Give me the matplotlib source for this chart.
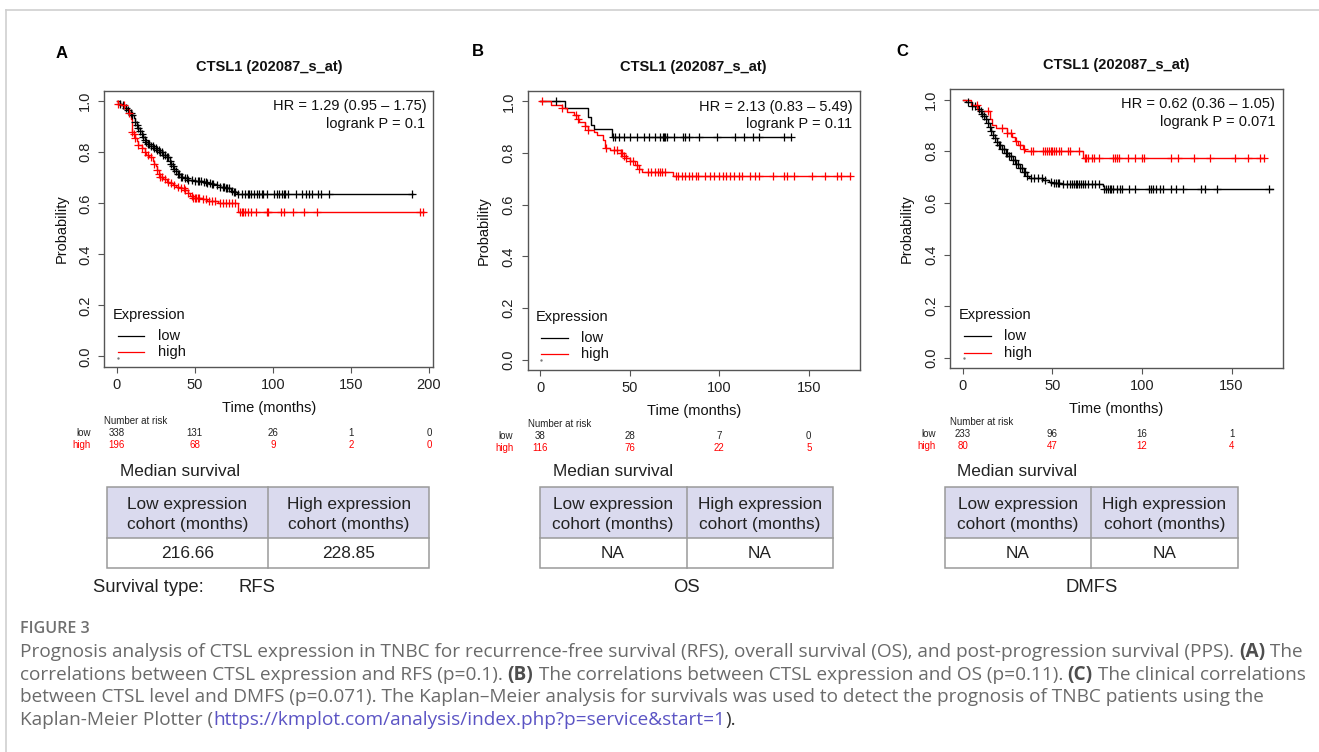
import numpy as np
import matplotlib
matplotlib.use("Agg")
import matplotlib.pyplot as plt
from matplotlib.patches import Rectangle
from matplotlib.transforms import blended_transform_factory

plt.rcParams['font.family'] = ['Liberation Sans', 'DejaVu Sans']

# ---------------- data ----------------
A_low_t = [0, 2, 4, 5, 7, 8, 10, 11, 12, 13, 14, 15, 16, 17, 18, 19, 20, 22, 24, 26, 28, 30, 32, 34, 35, 36, 37, 38, 39, 41,
           43, 46, 50, 55, 58, 61, 64, 66, 70, 73, 75, 77]
A_low_s = [1.0, 0.99, 0.985, 0.975, 0.965, 0.955, 0.945, 0.935, 0.92, 0.905, 0.895, 0.885, 0.87, 0.86, 0.85, 0.84, 0.832,
           0.825, 0.815, 0.81, 0.80, 0.79, 0.78, 0.765, 0.755, 0.745, 0.735, 0.725, 0.715, 0.705, 0.698, 0.692, 0.688,
           0.685, 0.68, 0.675, 0.67, 0.665, 0.66, 0.65, 0.645, 0.635]
A_low_end = 190
A_low_cens = [2, 4, 6, 7, 9, 10, 12, 13, 14, 15, 16, 17, 18, 19, 20, 21, 22, 23, 24, 25, 26, 27, 28, 29, 30, 31, 32, 33, 34,
              35, 36, 37, 38, 39, 40, 41, 42, 44, 45, 46, 48, 50, 52, 53, 54, 56, 57, 58, 60, 61, 62, 64, 66, 68, 69, 70,
              71, 72, 74, 75, 76, 78, 80, 82, 84, 85, 86, 88, 90, 91, 93, 94, 96, 101, 103, 104, 106, 107, 108, 110, 115,
              119, 121, 123, 125, 129, 131, 136, 189]
A_high_t = [0, 1, 3, 6, 8, 9, 10, 11, 12, 13, 14, 16, 18, 19, 21, 23, 24, 25, 26, 27, 28, 30, 32, 34, 36, 38, 41, 44, 46,
            47, 49, 55, 58, 65, 78]
A_high_s = [1.0, 0.99, 0.985, 0.97, 0.955, 0.93, 0.88, 0.87, 0.855, 0.845, 0.83, 0.815, 0.80, 0.79, 0.78, 0.765, 0.755,
            0.745, 0.73, 0.715, 0.705, 0.695, 0.685, 0.678, 0.672, 0.665, 0.66, 0.652, 0.64, 0.628, 0.622, 0.615, 0.61,
            0.60, 0.567]
A_high_end = 197
A_high_cens = [1, 5, 8, 10, 11, 12, 14, 16, 18, 20, 22, 24, 26, 27, 28, 29, 31, 33, 35, 37, 39, 41, 43, 44, 46, 48, 49,
               50, 51, 52, 53, 55, 57, 59, 61, 63, 66, 68, 70, 72, 74, 76, 79, 80, 81, 82, 84, 86, 89, 96, 97, 105, 107,
               113, 120, 128, 194, 196]

B_low_t = [0, 14, 27, 28.5, 30, 40]
B_low_s = [1.0, 0.973, 0.94, 0.91, 0.893, 0.863]
B_low_end = 140
B_low_cens = [9, 40.5, 42, 44, 47, 50, 54, 58, 61, 64, 67, 68.5, 69, 70, 71, 75, 80, 81, 83, 89, 99, 109, 114, 119, 122,
              136, 140]
B_high_t = [0, 6, 12, 15, 19, 21, 22, 25, 27, 30, 32, 35, 36, 39, 45, 47, 48, 50, 53, 55, 57, 74]
B_high_s = [1.0, 0.985, 0.974, 0.96, 0.947, 0.93, 0.92, 0.905, 0.89, 0.88, 0.87, 0.85, 0.82, 0.81, 0.80, 0.79, 0.78,
            0.77, 0.755, 0.74, 0.727, 0.71]
B_high_end = 173
B_high_cens = [1, 12, 20, 21, 25, 27, 37, 41, 43, 45, 46, 47, 48, 50, 52, 54, 55, 60, 62, 64, 66, 67, 68, 70, 76, 77, 79,
               81, 83, 85, 87, 88, 92, 95, 97, 100, 102, 104, 106, 108, 111, 113, 117, 120, 122, 130, 136, 138, 142,
               152, 159, 166, 168, 173]

C_low_t = [0, 2, 5, 8, 10, 11, 12, 13, 14, 15, 16, 17, 18, 19, 20, 22, 24, 26, 28, 30, 32, 34, 36, 37, 45, 48, 50, 55,
           78, 79]
C_low_s = [1.0, 0.99, 0.975, 0.965, 0.955, 0.945, 0.935, 0.925, 0.91, 0.895, 0.88, 0.865, 0.85, 0.835, 0.825, 0.81,
           0.795, 0.78, 0.765, 0.75, 0.735, 0.72, 0.705, 0.697, 0.69, 0.683, 0.678, 0.675, 0.665, 0.655]
C_low_end = 173
C_low_cens = [3, 5, 7, 9, 10, 11, 12, 13, 14, 15, 16, 17, 18, 19, 20, 21, 22, 23, 24, 25, 26, 27, 28, 29, 30, 31, 32, 33,
              34, 35, 36, 38, 40, 42, 44, 46, 49, 51, 52, 53, 54, 56, 58, 60, 61, 62, 63, 64, 65, 66, 67, 68, 70, 72, 74,
              76, 79, 80, 81, 82, 83, 84, 86, 88, 89, 93, 96, 104, 105, 106, 108, 110, 112, 116, 119, 123, 133, 135,
              142, 171]
C_high_t = [0, 4.5, 8.5, 15, 16.5, 18.5, 24.5, 27.5, 29, 31, 33.5, 35, 67]
C_high_s = [1.0, 0.98, 0.955, 0.925, 0.9, 0.89, 0.87, 0.854, 0.84, 0.825, 0.81, 0.80, 0.775]
C_high_end = 168
C_high_cens = [8, 14, 22, 25, 27, 30, 32, 34, 38, 39, 45, 46, 47, 48, 49, 50, 51, 52, 54, 55, 59, 60, 65, 68, 69, 70,
               72, 73, 76, 84, 85, 86, 87, 92, 96, 100, 101, 116, 120, 129, 138, 152, 159, 166, 168]

A_risk_times = [0, 50, 100, 150, 200]
A_risk_low = [338, 131, 26, 1, 0]
A_risk_high = [196, 68, 9, 2, 0]
B_risk_times = [0, 50, 100, 150]
B_risk_low = [38, 28, 7, 0]
B_risk_high = [116, 76, 22, 5]
C_risk_times = [0, 50, 100, 150]
C_risk_low = [233, 96, 16, 1]
C_risk_high = [80, 47, 12, 4]

panel_letters = ["A", "B", "C"]
titles = ["CTSL1 (202087_s_at)"] * 3
hr_texts = ["HR = 1.29 (0.95 \u2013 1.75)", "HR = 2.13 (0.83 \u2013 5.49)", "HR = 0.62 (0.36 \u2013 1.05)"]
p_texts = ["logrank P = 0.1", "logrank P = 0.11", "logrank P = 0.071"]
median_low = ["216.66", "NA", "NA"]
median_high = ["228.85", "NA", "NA"]
survival_types = ["RFS", "OS", "DMFS"]
x_ticks = [[0, 50, 100, 150, 200], [0, 50, 100, 150], [0, 50, 100, 150]]
y_ticks = [0.0, 0.2, 0.4, 0.6, 0.8, 1.0]
y_tick_labels = ["0.0", "0.2", "0.4", "0.6", "0.8", "1.0"]

# ---------------- layout ----------------
W, H = 1319, 752
fig = plt.figure(figsize=(W / 100, H / 100), dpi=100)
ov = fig.add_axes([0, 0, 1, 1])
ov.set_xlim(0, W)
ov.set_ylim(H, 0)
ov.axis('off')
ov.set_zorder(-1)

# outer frame
ov.plot([6, W], [10, 10], color='#cfcfcf', lw=1.2)
ov.plot([6, 6], [10, H], color='#cfcfcf', lw=1.2)

RED = '#ff0000'
FS = 10.5
TXT = '#111111'

panels = [
    dict(box=(104.3, 91, 433.3, 366.7), xlim=(-7.9, 202.8), letter=(62, 54), title=(269, 67),
         hr=(426.7, 106.3), pv=(425, 124), xlab=408, ylab=62,
         leg=(112.3, 314.5, 335.5, 352), legline=(117.7, 144.3, 157.7),
         risk=(104.3, 421, 433, 445, 91),
         low=(A_low_t, A_low_s, A_low_end, A_low_cens), high=(A_high_t, A_high_s, A_high_end, A_high_cens),
         rt=A_risk_times, rl=A_risk_low, rh=A_risk_high,
         table=(106.7, 268.3, 429.3), med=(120, 471)),
    dict(box=(527.7, 91, 860, 370), xlim=(-6.9, 178.6), letter=(478, 52), title=(693, 67),
         hr=(852.7, 106.7), pv=(851.7, 124.3), xlab=410.5, ylab=484,
         leg=(535.3, 316.7, 337.7, 354.3), legline=(541, 567.7, 581),
         risk=(527.7, 424, 436.3, 448.3, 513.3),
         low=(B_low_t, B_low_s, B_low_end, B_low_cens), high=(B_high_t, B_high_s, B_high_end, B_high_cens),
         rt=B_risk_times, rl=B_risk_low, rh=B_risk_high,
         table=(539.5, 686.5, 833), med=(553, 472)),
    dict(box=(950.3, 89.3, 1282.7, 368.3), xlim=(-6.9, 178.5), letter=(902, 52), title=(1116.7, 65.5),
         hr=(1275, 104.3), pv=(1275, 122), xlab=409, ylab=907,
         leg=(958.3, 315, 336, 352.7), legline=(964, 990.7, 1004.3),
         risk=(950.3, 422, 434.3, 446.3, 936),
         low=(C_low_t, C_low_s, C_low_end, C_low_cens), high=(C_high_t, C_high_s, C_high_end, C_high_cens),
         rt=C_risk_times, rl=C_risk_low, rh=C_risk_high,
         table=(944.5, 1091, 1238), med=(957, 472)),
]

table_top, table_mid, table_bot = 487.3, 538.3, 568.3
HEADER = '#dadaee'
BORDER = '#9a9a9a'


def km_draw(ax, t, s, end, cens, color):
    tt = list(t) + [end]
    ss = list(s) + [s[-1]]
    ax.step(tt, ss, where='post', color=color, lw=1.0, zorder=3)
    ct = np.asarray(cens, dtype=float)
    idx = np.searchsorted(np.asarray(t, dtype=float), ct, side='right') - 1
    cy = np.asarray(s)[idx]
    ax.plot(ct, cy, ls='none', marker='+', ms=5.5, mew=0.9, color=color, zorder=4)


for i, p in enumerate(panels):
    l, tp, r, b = p['box']
    ax = fig.add_axes([l / W, 1 - b / H, (r - l) / W, (b - tp) / H])
    ax.set_facecolor('none')
    ax.set_xlim(*p['xlim'])
    ax.set_ylim(-0.04, 1.04)
    for sp in ax.spines.values():
        sp.set_color('#555555')
        sp.set_linewidth(1.0)
    ax.set_xticks(x_ticks[i])
    ax.set_xticklabels([str(v) for v in x_ticks[i]], fontsize=FS)
    ax.set_yticks(y_ticks)
    ax.set_yticklabels(y_tick_labels, fontsize=FS, rotation=90, va='center')
    ax.tick_params(direction='out', length=4.3, width=0.8, color='#555555', pad=3.5, labelcolor='#222222')
    ax.tick_params(axis='y', pad=4.5)

    km_draw(ax, *p['low'], color='black')
    km_draw(ax, *p['high'], color=RED)

    # texts around
    ov.text(*p['letter'], panel_letters[i], fontsize=12, fontweight='bold', ha='center', va='center', color='black')
    ov.text(*p['title'], titles[i], fontsize=FS, fontweight='bold', ha='center', va='center', color=TXT)
    ov.text(*p['hr'], hr_texts[i], fontsize=FS, ha='right', va='center', color=TXT)
    ov.text(*p['pv'], p_texts[i], fontsize=FS, ha='right', va='center', color=TXT)
    ov.text((l + r) / 2, p['xlab'], "Time (months)", fontsize=FS, ha='center', va='center', color=TXT)
    ov.text(p['ylab'], (tp + b) / 2, "Probability", fontsize=FS, ha='center', va='center', rotation=90,
            color=TXT)

    # legend
    lx, ly0, ly1, ly2 = p['leg']
    x0, x1, xt = p['legline']
    ov.text(lx, ly0, "Expression", fontsize=FS, ha='left', va='center', color=TXT)
    ov.plot([x0, x1], [ly1, ly1], color='black', lw=0.9)
    ov.plot([x0, x1], [ly2, ly2], color=RED, lw=0.9)
    ov.plot([x0], [ly2 + 5.5], marker='o', ms=0.7, color='#777777', mec='#777777')
    ov.text(xt, ly1, "low", fontsize=FS, ha='left', va='center', color=TXT)
    ov.text(xt, ly2, "high", fontsize=FS, ha='left', va='center', color=TXT)

    # number at risk
    nx, ny, nly, nhy, lab_r = p['risk']
    ov.text(nx, ny, "Number at risk", fontsize=7, ha='left', va='center', color='#222222')
    ov.text(lab_r, nly, "low", fontsize=7, ha='right', va='center', color='#222222')
    ov.text(lab_r, nhy, "high", fontsize=7, ha='right', va='center', color=RED)
    tr = blended_transform_factory(ax.transData, ov.transData)
    for tv, lo, hi in zip(p['rt'], p['rl'], p['rh']):
        ov.text(tv, nly, str(lo), fontsize=7, ha='center', va='center', color='#222222', transform=tr)
        ov.text(tv, nhy, str(hi), fontsize=7, ha='center', va='center', color=RED, transform=tr)

    # median survival table
    tl, tm, tr_ = p['table']
    ov.text(*p['med'], "Median survival", fontsize=12.4, ha='left', va='center', color='#222222')
    ov.add_patch(Rectangle((tl, table_top), tr_ - tl, table_mid - table_top, facecolor=HEADER, edgecolor='none'))
    ov.add_patch(Rectangle((tl, table_top), tr_ - tl, table_bot - table_top, facecolor='none', edgecolor=BORDER,
                           lw=1.1))
    ov.plot([tl, tr_], [table_mid, table_mid], color=BORDER, lw=1.1)
    ov.plot([tm, tm], [table_top, table_bot], color=BORDER, lw=1.1)
    ov.text((tl + tm) / 2, 504, "Low expression", fontsize=12.4, ha='center', va='center', color='#222222')
    ov.text((tl + tm) / 2, 524.5, "cohort (months)", fontsize=12.4, ha='center', va='center', color='#222222')
    ov.text((tm + tr_) / 2, 504, "High expression", fontsize=12.4, ha='center', va='center', color='#222222')
    ov.text((tm + tr_) / 2, 524.5, "cohort (months)", fontsize=12.4, ha='center', va='center', color='#222222')
    ov.text((tl + tm) / 2, 553.5, median_low[i], fontsize=12.4, ha='center', va='center', color='#222222')
    ov.text((tm + tr_) / 2, 553.5, median_high[i], fontsize=12.4, ha='center', va='center', color='#222222')
    if i == 0:
        ov.text(93.3, 587.5, "Survival type:", fontsize=13.3, ha='left', va='center', color='#222222')
        ov.text(238.7, 587.5, survival_types[i], fontsize=13.3, ha='left', va='center', color='#222222')
    else:
        ov.text((tl + tr_) / 2, 587.5, survival_types[i], fontsize=13.3, ha='center', va='center', color='#222222')

# ---------------- caption ----------------
CAP_FONT = ['Open Sans', 'DejaVu Sans']
GRAY = '#6a6a6a'
DARK = '#4e4e4e'
LINK = '#5b54c4'
renderer = fig.canvas.get_renderer()

cap_lines = [
    [("Prognosis analysis of CTSL expression in TNBC for recurrence-free survival (RFS), overall survival (OS), and "
      "post-progression survival (PPS). ", 'normal', GRAY),
     ("(A)", 'bold', DARK), (" The", 'normal', GRAY)],
    [("correlations between CTSL expression and RFS (p=0.1). ", 'normal', GRAY), ("(B)", 'bold', DARK),
     (" The correlations between CTSL expression and OS (p=0.11). ", 'normal', GRAY), ("(C)", 'bold', DARK),
     (" The clinical correlations", 'normal', GRAY)],
    [("between CTSL level and DMFS (p=0.071). The Kaplan\u2013Meier analysis for survivals was used to detect the "
      "prognosis of TNBC patients using the", 'normal', GRAY)],
    [("Kaplan-Meier Plotter (", 'normal', GRAY),
     ("https://kmplot.com/analysis/index.php?p=service&start=1", 'normal', LINK),
     (").", 'normal', '#333333')],
]
cap_y = [652, 675, 697, 720]


def seg_width(text, weight, fs):
    t1 = ov.text(0, 0, text + '.', fontsize=fs, fontweight=weight, family=CAP_FONT)
    t2 = ov.text(0, 0, '.', fontsize=fs, fontweight=weight, family=CAP_FONT)
    w = t1.get_window_extent(renderer=renderer).width - t2.get_window_extent(renderer=renderer).width
    t1.remove()
    t2.remove()
    return w


# fit caption size to the first line's width in the figure (20 px -> 1301 px)
base = 10.0
w0 = sum(seg_width(t, wt, base) for t, wt, _ in cap_lines[0])
CAP_FS = base * (1281.0 / w0)


def rich_line(x, y, segs):
    for text, weight, color in segs:
        ov.text(x, y, text, fontsize=CAP_FS, fontweight=weight, family=CAP_FONT, color=color, ha='left',
                va='center')
        x += seg_width(text, weight, CAP_FS)


ov.text(20, 629, "FIGURE 3", fontsize=CAP_FS * 0.85, family=CAP_FONT, fontweight='semibold', color='#707070',
        ha='left', va='center')
for yy, segs in zip(cap_y, cap_lines):
    rich_line(20, yy, segs)

fig.savefig("out.png", dpi=100)
